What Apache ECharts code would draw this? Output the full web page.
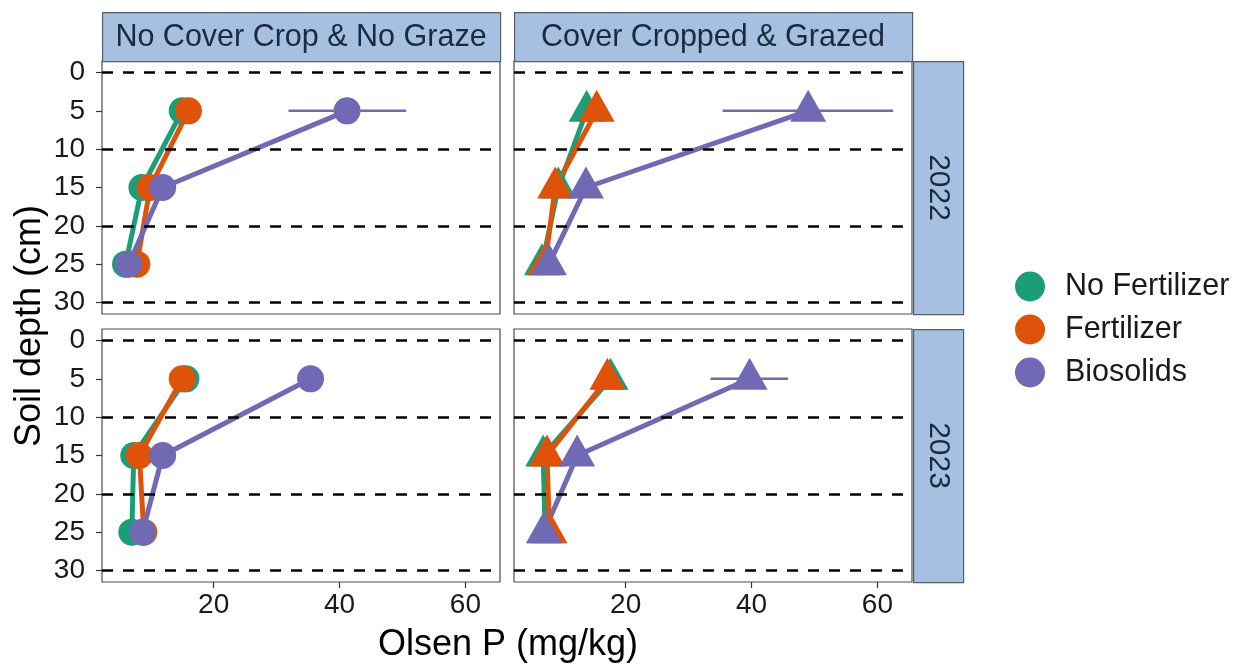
<!DOCTYPE html>
<html><head><meta charset="utf-8">
<script src="https://cdn.jsdelivr.net/npm/echarts@6/dist/echarts.min.js"></script>
<style>html,body{margin:0;padding:0;background:#fff}#c{width:1241px;height:664px}</style>
</head><body><div id="c"></div>
<script>
// ---------- data ----------
const depths = [5, 15, 25];
const treatments = ['No Fertilizer', 'Fertilizer', 'Biosolids'];
const facetCols = ['No Cover Crop & No Graze', 'Cover Cropped & Grazed'];
const facetRows = ['2022', '2023'];
const hlineDepths = [0, 10, 20, 30];
const yTicks = [0, 5, 10, 15, 20, 25, 30];
const xTicks = [20, 40, 60];

// Olsen P (mg/kg) at depths 5, 15, 25 cm
const nc2022_noFert = [15.0, 8.6, 6.0];
const nc2022_fert   = [16.0, 9.9, 7.8];
const nc2022_bio    = [41.2, 11.9, 6.5];
const cg2022_noFert = [13.8, 9.3, 6.7];
const cg2022_fert   = [15.4, 8.8, 7.2];
const cg2022_bio    = [49.0, 13.7, 7.8];
const nc2023_noFert = [15.6, 7.3, 7.0];
const nc2023_fert   = [15.0, 8.2, 8.9];
const nc2023_bio    = [35.4, 11.9, 8.7];
const cg2023_noFert = [17.6, 6.9, 7.2];
const cg2023_fert   = [17.1, 7.5, 7.9];
const cg2023_bio    = [39.7, 12.3, 7.0];

// Biosolids error bars: [depth, low, high]
const nc2022_bioErr = [[5, 31.9, 50.6]];
const cg2022_bioErr = [[5, 35.4, 62.5]];
const nc2023_bioErr = [];
const cg2023_bioErr = [[5, 33.5, 45.8]];

// ---------- style / layout ----------
const colors = ['#1B9E77', '#DE5209', '#7269B5'];
const FONT = "'Liberation Sans', Arial, sans-serif";
const panelW = 398, panelH = 253;
const colLeft = [102, 514];
const rowTop = [61, 329];
const xMin = 2.26, xMax = 65.5;
const yMin = -1.5, yMax = 31.5;

const panels = [
  {row: 0, col: 0, vals: [nc2022_noFert, nc2022_fert, nc2022_bio], err: nc2022_bioErr, sym: 'circle'},
  {row: 0, col: 1, vals: [cg2022_noFert, cg2022_fert, cg2022_bio], err: cg2022_bioErr, sym: 'triangle'},
  {row: 1, col: 0, vals: [nc2023_noFert, nc2023_fert, nc2023_bio], err: nc2023_bioErr, sym: 'circle'},
  {row: 1, col: 1, vals: [cg2023_noFert, cg2023_fert, cg2023_bio], err: cg2023_bioErr, sym: 'triangle'}
];

const grid = [], xAxis = [], yAxis = [], series = [];
panels.forEach((p, i) => {
  grid.push({left: colLeft[p.col], top: rowTop[p.row], width: panelW, height: panelH,
    show: true, backgroundColor: '#fff', borderColor: '#4d4d4d', borderWidth: 1.2, containLabel: false});
  const bottomRow = p.row === 1, leftCol = p.col === 0;
  xAxis.push({type: 'value', gridIndex: i, min: xMin, max: xMax, position: 'bottom',
    splitLine: {show: false}, axisLine: {show: false, onZero: false},
    axisTick: {show: bottomRow, length: 6, customValues: xTicks, lineStyle: {color: '#333', width: 1.2}},
    axisLabel: {show: bottomRow, customValues: xTicks, fontSize: 28, fontFamily: FONT, color: '#1a1a1a', margin: 9}});
  yAxis.push({type: 'value', gridIndex: i, min: yMin, max: yMax, inverse: true, position: 'left',
    splitLine: {show: false}, axisLine: {show: false, onZero: false},
    axisTick: {show: leftCol, length: 6, customValues: yTicks, lineStyle: {color: '#333', width: 1.2}},
    axisLabel: {show: leftCol, customValues: yTicks, fontSize: 28, fontFamily: FONT, color: '#1a1a1a', margin: 17}});
  // dashed reference lines
  series.push({type: 'line', xAxisIndex: i, yAxisIndex: i, data: [], silent: true, z: 1,
    markLine: {silent: true, symbol: ['none', 'none'], animation: false, label: {show: false},
      lineStyle: {type: [11, 10], color: '#000', width: 2.5},
      emphasis: {disabled: true},
      data: hlineDepths.map(v => ({yAxis: v}))}});
  // error bars
  series.push({type: 'custom', name: 'Biosolids', xAxisIndex: i, yAxisIndex: i, z: 2, silent: true,
    data: p.err, encode: {x: [1, 2], y: 0},
    renderItem: (params, api) => {
      const d = api.value(0), lo = api.value(1), hi = api.value(2);
      const a = api.coord([lo, d]), b = api.coord([hi, d]);
      return {type: 'line', shape: {x1: a[0], y1: a[1], x2: b[0], y2: b[1]},
        style: {stroke: colors[2], lineWidth: 2.5}};
    }});
  // lines
  p.vals.forEach((v, t) => {
    series.push({type: 'line', name: treatments[t], xAxisIndex: i, yAxisIndex: i, z: 3,
      data: depths.map((d, k) => [v[k], d]), showSymbol: false, silent: true, animation: false,
      lineStyle: {color: colors[t], width: 5}, itemStyle: {color: colors[t]}});
  });
  // points
  p.vals.forEach((v, t) => {
    series.push({type: 'scatter', name: treatments[t], xAxisIndex: i, yAxisIndex: i, z: 4,
      data: depths.map((d, k) => [v[k], d]), animation: false,
      symbol: p.sym,
      symbolSize: p.sym === 'circle' ? 27 : [36, 32],
      symbolOffset: p.sym === 'circle' ? [0, 0] : [0, -5],
      itemStyle: {color: colors[t], opacity: 1}});
  });
});

// strips and titles
const graphic = [];
const stripFill = '#A6C0E1', stripStroke = '#56606b', stripText = '#1b2a3e';
facetCols.forEach((lab, c) => {
  graphic.push({type: 'rect', left: colLeft[c], top: 12, shape: {width: panelW, height: rowTop[0] - 12},
    style: {fill: stripFill, stroke: stripStroke, lineWidth: 1.2}, z: 10});
  graphic.push({type: 'text', x: colLeft[c] + panelW / 2, y: 12 + (rowTop[0] - 12) / 2 + 1, z: 11,
    style: {text: lab, fontSize: 30.5, fontFamily: FONT, fill: stripText, align: 'center', verticalAlign: 'middle'}});
});
facetRows.forEach((lab, r) => {
  const sx = colLeft[1] + panelW + 1;
  graphic.push({type: 'rect', left: sx, top: rowTop[r], shape: {width: 50, height: panelH},
    style: {fill: stripFill, stroke: stripStroke, lineWidth: 1.2}, z: 10});
  graphic.push({type: 'text', x: sx + 25, y: rowTop[r] + panelH / 2, rotation: -Math.PI / 2, z: 11,
    style: {text: lab, fontSize: 30, fontFamily: FONT, fill: stripText, align: 'center', verticalAlign: 'middle'}});
});
graphic.push({type: 'text', x: 30, y: 326, rotation: Math.PI / 2, z: 11,
  style: {text: 'Soil depth (cm)', fontSize: 36, fontFamily: FONT, fill: '#000', align: 'center', verticalAlign: 'middle'}});
graphic.push({type: 'text', x: 508, y: 645, z: 11,
  style: {text: 'Olsen P (mg/kg)', fontSize: 36, fontFamily: FONT, fill: '#000', align: 'center', verticalAlign: 'middle'}});

const chart = echarts.init(document.getElementById('c'), null, {renderer: 'canvas'});
chart.setOption({
  animation: false,
  backgroundColor: '#fff',
  grid, xAxis, yAxis, series, graphic,
  legend: {orient: 'vertical', left: 1010, top: 266, itemWidth: 34, itemHeight: 30, itemGap: 12,
    selectedMode: false,
    data: treatments.map((n, t) => ({name: n, icon: 'circle', itemStyle: {color: colors[t]}})),
    textStyle: {fontSize: 30.5, fontFamily: FONT, color: '#1a1a1a', padding: [0, 0, 0, 13]}}
});
</script>
</body></html>
